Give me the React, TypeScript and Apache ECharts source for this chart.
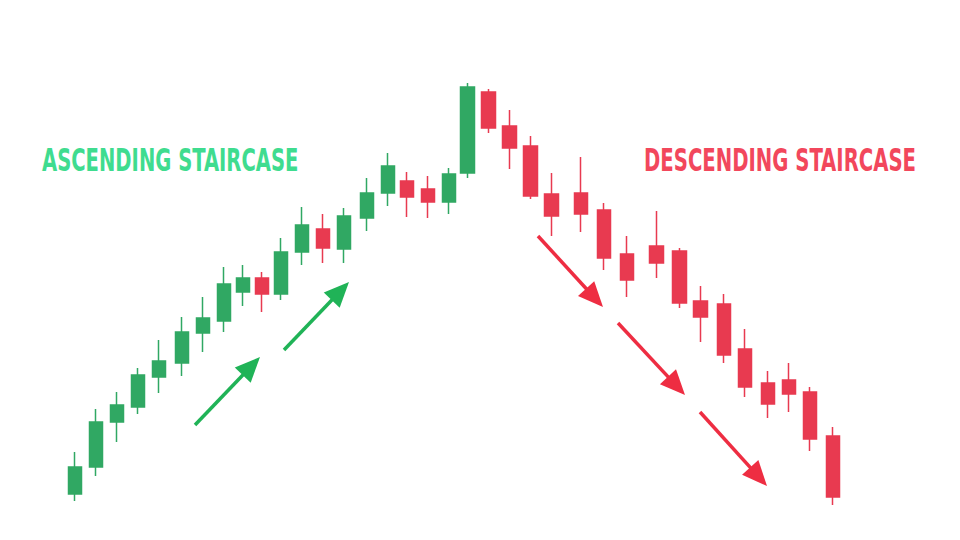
import React, { useEffect, useRef } from "react";
import * as echarts from "echarts";

// session time (in trading-session units) of each candle
const sessions = [
  0, 1, 2, 3, 4.0, 5.1, 6.1, 7.1, 8.0, 8.9, 9.8, 10.8, 11.8, 12.8, 13.9, 14.9, 15.8, 16.8,
  17.8, 18.7, 19.7, 20.7, 21.7, 22.7, 24.1, 25.2, 26.3, 27.7, 28.8, 29.8, 30.9, 31.9, 33.0,
  34.0, 35.0, 36.1,
];
const opens = [
  23, 36.5, 59, 66.5, 81.5, 88.5, 103.5, 109.5, 124, 131, 123, 144, 155.5, 145.5, 161, 173.5,
  179.5, 175.5, 169, 183.5, 224, 207, 197, 173, 173.5, 165, 143, 147, 144.5, 119.5, 118, 95.5,
  78.5, 80, 74, 52,
];
const closes = [
  36.5, 59, 67.5, 82.5, 89.5, 104, 111, 128, 131, 123, 144, 157.5, 146, 162, 173.5, 187, 171.5,
  169, 183, 226.5, 206, 196, 172, 162, 163, 141, 130, 138.5, 118.5, 111.5, 92.5, 76.5, 68, 73,
  50.5, 21.5,
];
const lows = [
  19.5, 32, 49, 63, 73.5, 82, 94, 104, 117, 114, 120, 137.5, 138.5, 138.5, 154.5, 167, 161.5,
  161, 163, 181, 203.5, 185.5, 170.5, 152, 154, 135, 121.5, 131, 116, 99, 88.5, 71.5, 61, 64,
  44.5, 17.5,
];
const highs = [
  44, 65.5, 74, 86, 100, 111.5, 121.5, 136.5, 137.5, 134, 151, 166.5, 163, 166, 181, 193.5, 184,
  182, 186, 228.5, 225.5, 215, 202, 183.5, 191.5, 168.5, 152, 164.5, 146, 127, 123, 105.5, 84.5,
  88.5, 76.5, 56.5,
];

const titles = ["ASCENDING STAIRCASE", "DESCENDING STAIRCASE"];

const UP = "#30a863";
const DOWN = "#e83a50";
const ARROW_UP = "#20b357";
const ARROW_DOWN = "#ee2d42";

// annotation arrows: [tailX, tailY, tipX, tipY]
const upArrows = [
  [195, 425, 260, 357],
  [284, 350, 349, 282],
];
const downArrows = [
  [538, 236, 603, 307],
  [618, 323, 685, 395],
  [700, 412, 767, 486],
];

function arrow(a: number[], color: string) {
  const [x1, y1, x2, y2] = a;
  const dx = x2 - x1;
  const dy = y2 - y1;
  const len = Math.sqrt(dx * dx + dy * dy);
  const ux = dx / len;
  const uy = dy / len;
  const headLen = 25;
  const halfW = 11;
  const bx = x2 - ux * headLen;
  const by = y2 - uy * headLen;
  const px = -uy;
  const py = ux;
  return [
    {
      type: "line",
      shape: { x1, y1, x2: bx + ux * 4, y2: by + uy * 4 },
      style: { stroke: color, lineWidth: 3.5 },
    },
    {
      type: "polygon",
      shape: {
        points: [
          [x2, y2],
          [bx + px * halfW, by + py * halfW],
          [bx - px * halfW, by - py * halfW],
        ],
      },
      style: { fill: color },
    },
  ];
}

const TITLE_FONT = "bold 32px 'Liberation Sans Narrow', 'DejaVu Sans Condensed', sans-serif";

export default function App() {
  const ref = useRef<HTMLDivElement>(null);
  useEffect(() => {
    if (!ref.current) return;
    const chart = echarts.init(ref.current, null, { renderer: "svg" });
    const data = sessions.map((t, i) => [t, opens[i], closes[i], lows[i], highs[i]]);
    chart.setOption({
      animation: false,
      backgroundColor: "#ffffff",
      grid: { left: 75, right: 127, top: 0, bottom: 0 },
      xAxis: { type: "value", min: 0, max: 36.1, show: false, splitLine: { show: false } },
      yAxis: { type: "value", min: 0, max: 270, show: false, splitLine: { show: false } },
      series: [
        {
          type: "candlestick",
          data,
          encode: { x: 0, y: [1, 2, 3, 4] },
          barWidth: 14,
          itemStyle: {
            color: UP,
            color0: DOWN,
            borderColor: UP,
            borderColor0: DOWN,
            borderWidth: 1.5,
          },
        },
      ],
      graphic: [
        {
          type: "text",
          x: 42,
          y: 144,
          scaleX: 0.68,
          style: {
            text: titles[0],
            fill: "#3fdc8f",
            font: TITLE_FONT,
            textVerticalAlign: "top",
          },
        },
        {
          type: "text",
          x: 644,
          y: 144,
          scaleX: 0.683,
          style: {
            text: titles[1],
            fill: "#f2475c",
            font: TITLE_FONT,
            textVerticalAlign: "top",
          },
        },
        ...upArrows.flatMap((a) => arrow(a, ARROW_UP)),
        ...downArrows.flatMap((a) => arrow(a, ARROW_DOWN)),
      ],
    });
    return () => chart.dispose();
  }, []);
  return (
    <div
      ref={ref}
      style={{ position: "fixed", left: 0, top: 0, width: 960, height: 540 }}
    />
  );
}
